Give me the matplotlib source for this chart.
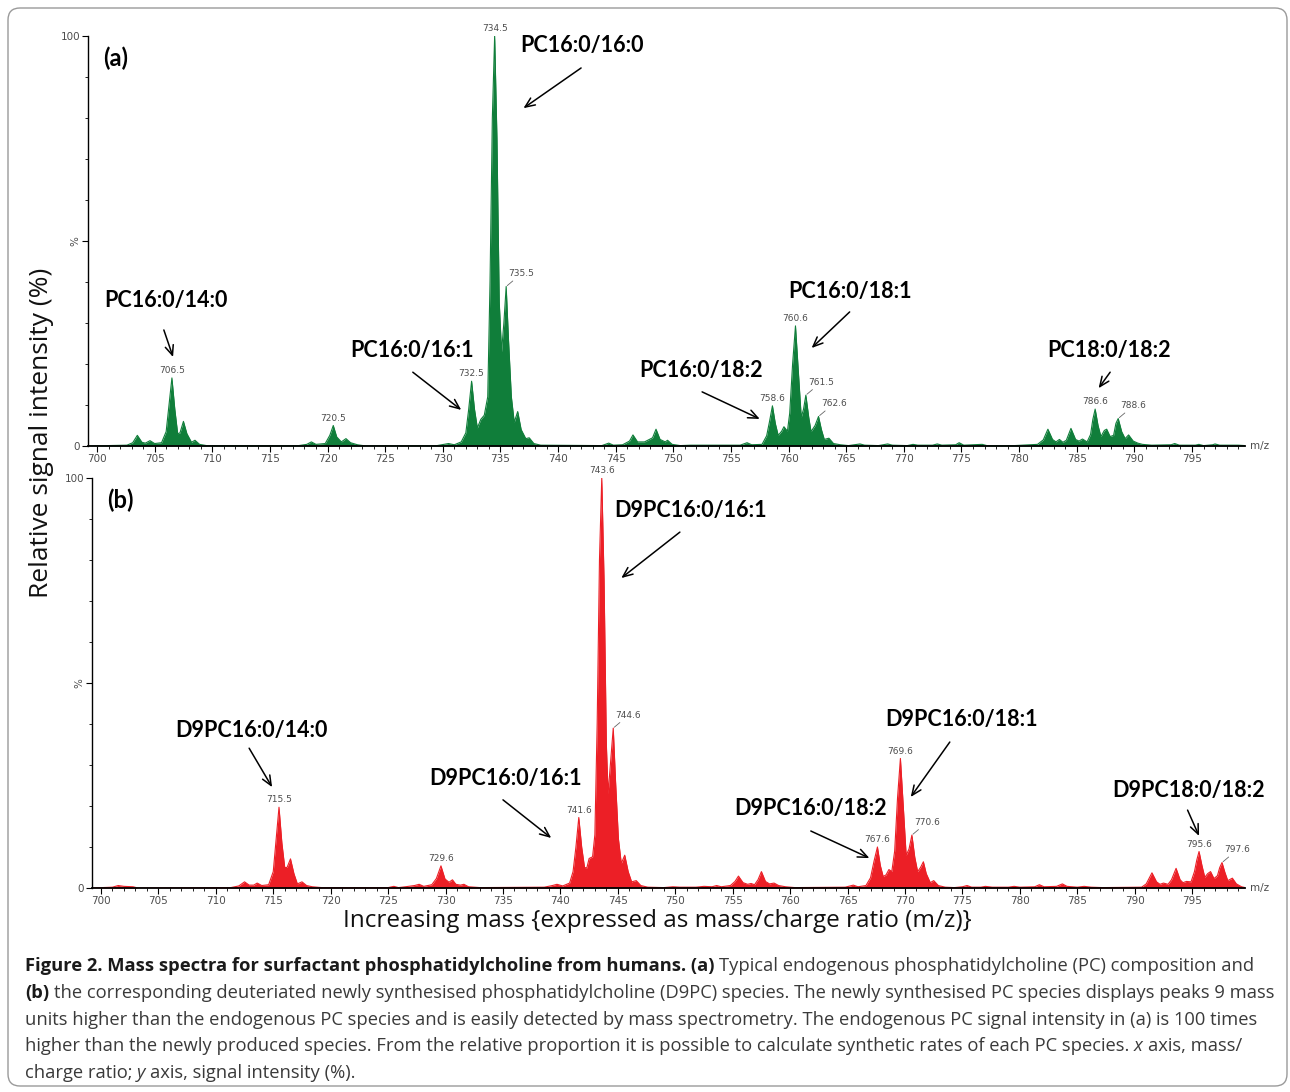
import numpy as np
import matplotlib
matplotlib.use("Agg")
import matplotlib.pyplot as plt
from matplotlib.patches import FancyBboxPatch

# ---- spectrum (a): endogenous PC, profile (m/z, %)
a_mz = [699.2, 702.6, 703.1, 703.5, 703.9, 704.2, 704.6, 705.0, 705.6, 706.0, 706.25, 706.5, 706.75,
        707.0, 707.2, 707.5, 707.8, 708.2, 708.5, 708.9, 709.5, 717.5, 718.2, 718.6, 719.0, 719.8,
        720.2, 720.5, 720.8, 721.2, 721.6, 722.0, 722.6, 723.2, 729.5, 730.5, 731.0, 731.6, 732.0,
        732.25, 732.5, 732.75, 733.0, 733.3, 733.6, 733.9, 734.1, 734.3, 734.5, 734.7, 734.9, 735.1,
        735.3, 735.5, 735.7, 735.95, 736.2, 736.5, 736.8, 737.2, 737.5, 737.9, 738.5, 743.8, 744.4,
        744.8, 745.6, 746.2, 746.5, 746.9, 747.5, 748.2, 748.5, 748.85, 749.3, 749.5, 749.9, 750.6,
        751.5, 755.8, 756.4, 756.8, 757.7, 758.1, 758.35, 758.6, 758.85, 759.1, 759.4, 759.6, 759.9,
        760.1, 760.35, 760.6, 760.85, 761.1, 761.3, 761.5, 761.75, 761.95, 762.3, 762.6, 762.85,
        763.1, 763.5, 763.9, 764.5, 765.2, 766.2, 766.6, 767.8, 768.6, 769.0, 770.3, 770.8, 771.2,
        772.5, 772.9, 773.3, 774.5, 774.8, 775.2, 776.8, 777.2, 779.6, 780.3, 781.6, 782.1, 782.5,
        782.9, 783.2, 783.5, 783.8, 784.1, 784.5, 784.9, 785.2, 785.5, 785.9, 786.2, 786.4, 786.6,
        786.85, 787.1, 787.4, 787.6, 787.9, 788.2, 788.4, 788.6, 788.9, 789.2, 789.5, 789.9, 790.3,
        790.7, 791.5, 793.2, 793.5, 793.9, 795.3, 795.6, 796.0, 796.8, 797.0, 797.4, 799.0, 799.6]
a_int = [0.0, 0.2, 0.8, 2.6, 0.9, 0.7, 1.3, 0.6, 0.8, 3.5, 10.0, 16.6, 9.0,
         3.0, 3.2, 6.0, 3.0, 0.9, 1.4, 0.4, 0.1, 0.1, 0.4, 1.0, 0.4, 0.6,
         2.6, 5.0, 2.2, 1.0, 1.8, 0.8, 0.3, 0.05, 0.1, 0.6, 0.3, 1.0, 3.2,
         9.0, 15.8, 9.0, 4.4, 6.5, 7.5, 12.0, 40.0, 80.0, 100.0, 75.0, 35.0, 23.0,
         30.0, 38.9, 26.0, 12.0, 5.8, 8.4, 4.0, 1.8, 2.0, 0.6, 0.2, 0.1, 0.7,
         0.2, 0.3, 1.2, 2.7, 1.0, 1.0, 2.0, 4.1, 1.6, 1.0, 1.4, 0.4, 0.1,
         0.2, 0.2, 0.8, 0.3, 0.4, 2.5, 6.0, 9.8, 5.5, 2.6, 3.6, 4.7, 3.6,
         8.0, 20.0, 29.3, 18.0, 7.0, 9.0, 12.4, 7.0, 3.5, 5.0, 7.2, 4.0,
         1.6, 1.9, 0.6, 0.3, 0.1, 0.5, 0.2, 0.1, 0.5, 0.2, 0.1, 0.4, 0.2,
         0.2, 0.5, 0.2, 0.3, 0.8, 0.2, 0.4, 0.1, 0.1, 0.2, 0.4, 1.5, 4.1,
         1.6, 1.0, 1.6, 0.9, 1.4, 4.3, 1.6, 1.2, 1.7, 1.0, 2.8, 6.5, 9.0,
         5.0, 2.3, 3.8, 4.1, 2.3, 2.6, 5.5, 6.7, 3.5, 1.8, 2.7, 1.2, 0.7,
         0.4, 0.2, 0.3, 0.6, 0.2, 0.2, 0.4, 0.1, 0.3, 0.5, 0.2, 0.2, 0.1]

# ---- spectrum (b): D9PC (newly synthesised), profile
b_mz = [699.2, 701.0, 701.5, 702.0, 702.8, 703.2, 711.3, 712.0, 712.5, 712.9, 713.3, 713.6, 714.0,
        714.6, 715.0, 715.25, 715.5, 715.75, 716.0, 716.2, 716.5, 716.8, 717.1, 717.5, 717.9, 718.4,
        719.2, 725.0, 725.5, 725.9, 726.5, 727.3, 727.7, 728.1, 728.8, 729.2, 729.6, 729.95, 730.3,
        730.6, 730.9, 731.3, 731.6, 732.0, 733.0, 738.6, 739.3, 739.7, 740.2, 740.8, 741.1, 741.35,
        741.6, 741.85, 742.1, 742.3, 742.5, 742.8, 743.0, 743.2, 743.4, 743.6, 743.8, 744.0, 744.15,
        744.35, 744.6, 744.8, 745.05, 745.3, 745.6, 745.9, 746.2, 746.6, 747.0, 747.6, 749.0, 749.8,
        750.4, 751.8, 752.5, 753.2, 753.6, 754.0, 754.8, 755.2, 755.5, 755.9, 756.3, 756.6, 756.9,
        757.2, 757.5, 757.85, 758.2, 758.6, 759.0, 759.6, 760.4, 764.8, 765.5, 765.9, 766.6, 767.0,
        767.3, 767.6, 767.85, 768.1, 768.35, 768.6, 768.85, 769.1, 769.35, 769.6, 769.85, 770.1,
        770.35, 770.6, 770.85, 771.1, 771.35, 771.6, 771.85, 772.2, 772.5, 772.9, 773.5, 774.3,
        775.0, 775.4, 775.8, 776.6, 777.0, 777.6, 779.0, 779.5, 780.0, 781.3, 781.7, 782.1, 783.2,
        783.7, 784.1, 785.0, 785.6, 786.2, 787.2, 790.6, 791.0, 791.5, 791.9, 792.2, 792.5, 792.9,
        793.2, 793.6, 793.95, 794.2, 794.5, 794.9, 795.2, 795.4, 795.6, 795.85, 796.1, 796.35,
        796.6, 796.9, 797.2, 797.4, 797.6, 797.85, 798.1, 798.5, 798.85, 799.3, 799.6]
b_int = [0.0, 0.2, 0.6, 0.4, 0.3, 0.0, 0.1, 0.5, 1.5, 0.7, 0.7, 1.2, 0.6,
         0.8, 4.0, 12.0, 19.7, 11.0, 5.0, 5.0, 7.1, 3.5, 1.0, 1.5, 0.6, 0.3,
         0.1, 0.1, 0.4, 0.1, 0.3, 0.6, 0.9, 0.4, 0.8, 2.3, 5.4, 2.2, 1.4,
         2.0, 0.9, 0.7, 0.9, 0.3, 0.1, 0.2, 0.6, 0.9, 0.5, 1.2, 4.0, 10.0,
         17.2, 10.0, 5.0, 4.9, 7.2, 7.6, 13.0, 40.0, 80.0, 100.0, 75.0, 35.0, 23.0,
         30.0, 39.0, 26.0, 12.0, 6.0, 8.0, 4.0, 1.5, 1.8, 0.6, 0.2, 0.1, 0.3,
         0.2, 0.2, 0.4, 0.3, 0.6, 0.3, 0.6, 1.6, 2.9, 1.3, 0.9, 1.1, 0.8,
         2.0, 4.0, 1.6, 1.0, 1.2, 0.6, 0.3, 0.1, 0.2, 0.7, 0.3, 0.6, 2.5,
         6.5, 10.0, 5.5, 2.8, 3.2, 4.5, 4.0, 9.0, 22.0, 31.6, 20.0, 8.0,
         9.5, 12.9, 7.5, 4.0, 5.0, 6.4, 3.5, 1.3, 1.8, 0.6, 0.2, 0.1,
         0.3, 0.6, 0.2, 0.2, 0.4, 0.2, 0.2, 0.4, 0.2, 0.3, 0.8, 0.3, 0.4,
         1.0, 0.4, 0.2, 0.4, 0.2, 0.1, 0.2, 1.0, 3.7, 1.5, 0.9, 1.2, 0.9,
         2.0, 4.8, 2.0, 1.3, 1.6, 1.5, 4.0, 6.8, 8.9, 5.5, 2.6, 3.5,
         4.0, 2.3, 3.0, 5.0, 6.2, 3.8, 1.8, 2.4, 1.0, 0.3, 0.1]

# labelled peaks (m/z); the ones in *_lead get a small leader line
a_peaks = [706.5, 720.5, 732.5, 734.5, 735.5, 758.6, 760.6, 761.5, 762.6, 786.6, 788.6]
a_lead = [735.5, 761.5, 762.6, 788.6]
b_peaks = [715.5, 729.6, 741.6, 743.6, 744.6, 767.6, 769.6, 770.6, 795.6, 797.6]
b_lead = [744.6, 770.6, 797.6]

# species names: text position and arrow tail/head (m/z, %)
a_species = ["PC16:0/16:0", "PC16:0/14:0", "PC16:0/16:1", "PC16:0/18:2", "PC16:0/18:1", "PC18:0/18:2"]
a_text_xy = [(742.1, 97.6), (706.0, 35.4), (727.3, 23.2), (752.4, 18.3), (765.3, 37.8), (787.8, 23.2)]
a_arrows = [((742.0, 92.2), (737.0, 82.4)), ((705.8, 28.3), (706.6, 21.7)),
            ((727.4, 18.0), (731.6, 8.8)), ((752.5, 13.2), (757.5, 6.6)),
            ((765.3, 32.7), (762.0, 23.9)), ((787.9, 18.0), (786.9, 14.1))]
b_species = ["D9PC16:0/16:1", "D9PC16:0/14:0", "D9PC16:0/16:1", "D9PC16:0/18:2", "D9PC16:0/18:1", "D9PC18:0/18:2"]
b_text_xy = [(751.3, 92.0), (713.1, 38.5), (735.2, 26.6), (761.8, 19.3), (774.9, 41.0), (794.7, 23.9)]
b_arrows = [((750.4, 86.8), (745.3, 75.6)), ((712.9, 34.1), (714.9, 24.6)),
            ((735.0, 21.5), (739.2, 12.2)), ((761.8, 13.9), (766.9, 7.3)),
            ((773.9, 35.6), (770.5, 22.2)), ((794.6, 19.0), (795.6, 12.7))]

caption = [
    [("Figure 2. Mass spectra for surfactant phosphatidylcholine from humans. (a)", "b"),
     ("Typical endogenous phosphatidylcholine (PC) composition and", "r")],
    [("(b)", "b"),
     ("the corresponding deuteriated newly synthesised phosphatidylcholine (D9PC) species. The newly synthesised PC species displays peaks 9 mass", "r")],
    [("units higher than the endogenous PC species and is easily detected by mass spectrometry. The endogenous PC signal intensity in (a) is 100 times", "r")],
    [("higher than the newly produced species. From the relative proportion it is possible to calculate synthetic rates of each PC species.", "r"),
     ("x", "i"), ("axis, mass/", "r")],
    [("charge ratio;", "r"), ("y", "i"), ("axis, signal intensity (%).", "r")],
]

green = "#107e3a"
red = "#ec1f26"
tick_col = "#4d4d4d"
label_font = ["Lato", "DejaVu Sans"]

fig = plt.figure(figsize=(12.9, 10.92), dpi=100)

border = FancyBboxPatch((0.08, 0.06), 12.79, 10.78, boxstyle="round,pad=0,rounding_size=0.12",
                        transform=fig.dpi_scale_trans, fc="none", ec="#9a9a9a", lw=1.0)
fig.patches.append(border)

axa = fig.add_axes([88 / 1290, 1 - 446 / 1092, (1245 - 88) / 1290, 410 / 1092])
axb = fig.add_axes([92 / 1290, 1 - 888 / 1092, (1245 - 92) / 1290, 410 / 1092])


def draw_panel(ax, mz, inten, color, peaks, lead, tag, species, text_xy, arrows):
    mz = np.array(mz)
    inten = np.array(inten)
    ax.fill_between(mz, 0, inten, color=color, lw=0)
    ax.plot(mz, inten, color=color, lw=0.8)
    ax.set_xlim(699.22, 799.6)
    ax.set_ylim(0, 100)
    for s in ["top", "right"]:
        ax.spines[s].set_visible(False)
    ax.spines["left"].set_linewidth(1.0)
    ax.spines["bottom"].set_linewidth(1.3)
    ax.set_xticks(np.arange(700, 800, 5))
    ax.set_xticks(np.arange(700, 800, 1), minor=True)
    ax.set_yticks([0, 50, 100])
    ax.set_yticklabels(["0", "%", "100"])
    ax.set_yticks(np.arange(0, 101, 10), minor=True)
    ax.tick_params(axis="both", which="major", length=4, width=0.8, labelsize=7.5,
                   labelcolor=tick_col, pad=1.5)
    ax.tick_params(axis="both", which="minor", length=2.5, width=0.6)
    ax.get_yticklabels()[1].set_rotation(90)
    ax.get_yticklabels()[1].set_va("center")
    ax.text(1.004, 0.0, "m/z", transform=ax.transAxes, fontsize=7.5, color=tick_col,
            ha="left", va="center")

    for p in peaks:
        h = np.interp(p, mz, inten)
        if p in lead:
            ax.annotate("%.1f" % p, xy=(p, h), xytext=(11, 6), textcoords="offset points",
                        ha="center", va="bottom", fontsize=6.5, color=tick_col,
                        arrowprops=dict(arrowstyle="-", color="#666666", lw=0.6,
                                        shrinkA=0, shrinkB=1), annotation_clip=False)
        else:
            ax.annotate("%.1f" % p, xy=(p, h), xytext=(0, 2), textcoords="offset points",
                        ha="center", va="bottom", fontsize=6.5, color=tick_col,
                        annotation_clip=False)

    ax.text(0.013, 0.946, tag, transform=ax.transAxes, fontsize=17, fontweight="bold",
            family=label_font, ha="left", va="center")
    for name, (tx, ty), (tail, head) in zip(species, text_xy, arrows):
        ax.text(tx, ty, name, fontsize=15.5, fontweight="bold", family=label_font,
                ha="center", va="center", clip_on=False)
        ax.annotate("", xy=head, xytext=tail,
                    arrowprops=dict(arrowstyle="->,head_length=0.7,head_width=0.3",
                                    color="black", lw=1.1, shrinkA=0, shrinkB=0),
                    annotation_clip=False)


draw_panel(axa, a_mz, a_int, green, a_peaks, a_lead, "(a)", a_species, a_text_xy, a_arrows)
draw_panel(axb, b_mz, b_int, red, b_peaks, b_lead, "(b)", b_species, b_text_xy, b_arrows)

fig.text(42 / 1290, 1 - 433 / 1092, "Relative signal intensity (%)", rotation=90,
         fontsize=19, family=["Open Sans", "DejaVu Sans"], ha="center", va="center", color="#111111")
fig.text(657 / 1290, 1 - 921 / 1092, "Increasing mass {expressed as mass/charge ratio (m/z)}",
         fontsize=17.5, family=["Open Sans", "DejaVu Sans"], ha="center", va="center", color="#111111")

# caption, drawn piece by piece so bold / italic parts sit inline
cap_font = ["Open Sans", "DejaVu Sans"]
renderer = fig.canvas.get_renderer()


def piece_props(kind, size):
    return dict(fontsize=size, family=cap_font,
                fontweight="bold" if kind == "b" else "normal",
                fontstyle="italic" if kind == "i" else "normal",
                color="#1a1a1a" if kind == "b" else "#3a3a3a")


def text_width(s, kind, size):
    t = fig.text(0, 0, s, **piece_props(kind, size))
    w = t.get_window_extent(renderer).width
    t.remove()
    return w


def line_width(line, size):
    sp = text_width("a a", "r", size) - text_width("aa", "r", size)
    return sum(text_width(s, k, size) for s, k in line) + sp * (len(line) - 1)


size = 12.0
size = size * 1243 / max(line_width(line, size) for line in caption)
space = text_width("a a", "r", size) - text_width("aa", "r", size)
x0 = 25
for i, line in enumerate(caption):
    y = 1 - (971 + i * 26.8) / 1092
    x = x0
    for s, k in line:
        fig.text(x / 1290, y, s, va="baseline", ha="left", **piece_props(k, size))
        x += text_width(s, k, size) + space

fig.savefig("out.png", dpi=100)
